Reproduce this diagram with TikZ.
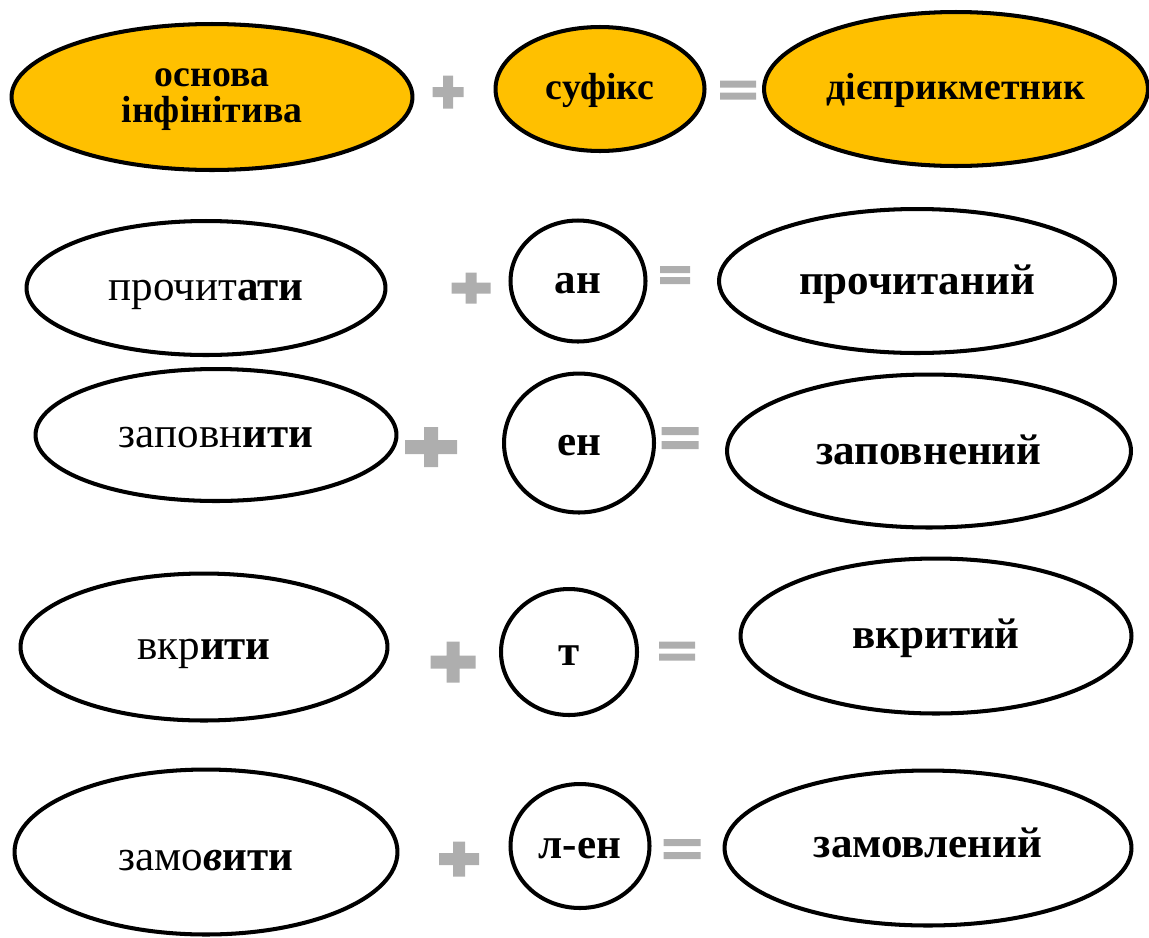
\documentclass[tikz,border=0pt]{standalone}
\usepackage{fontspec}
\setmainfont{Liberation Serif}
\usepackage{xcolor}
\usetikzlibrary{shapes.geometric}
\definecolor{suffixgold}{RGB}{255, 192, 0}
\definecolor{signgray}{RGB}{174, 174, 174}

\begin{document}
\begin{tikzpicture}[x=0.02cm, y=-0.02cm,
  wordoval/.style={ellipse, draw=black, line width=2.3pt, inner sep=0pt,
    font=\fontsize{24.5}{28}\selectfont},
  headoval/.style={wordoval, fill=suffixgold,
    font=\bfseries\fontsize{21.5}{21}\selectfont},
  xmid/.style={text height=#1, text depth=0pt},
  sign/.style={fill=signgray}
]
  \useasboundingbox (0,0) rectangle (1149,937);

  \node[headoval, align=center, xmid=29.5pt, minimum width=8.02cm,
    minimum height=2.92cm] (stem) at (212,97) {основа\\інфінітива};
  \node[headoval, xmid=12.5pt, minimum width=4.18cm, minimum height=2.48cm]
    (suffix) at (600,89) {суфікс};
  \node[headoval, xmid=12.5pt, minimum width=7.68cm, minimum height=3.08cm]
    (participle) at (956,89) {дієприкметник};

  \node[wordoval, xmid=14.5pt, minimum width=7.18cm, minimum height=2.68cm]
    (read) at (206,288) {прочит\textbf{ати}};
  \node[wordoval, xmid=14.5pt, minimum width=2.70cm, minimum height=2.42cm,
    font=\bfseries\fontsize{24.5}{28}\selectfont] (readsuf) at (578,281) {ан};
  \node[wordoval, xmid=15.5pt, minimum width=7.92cm, minimum height=2.88cm,
    font=\bfseries\fontsize{24.5}{28}\selectfont] (readres) at (917,281) {прочитаний};

  \node[wordoval, xmid=14.5pt, minimum width=7.22cm, minimum height=2.64cm]
    (fill) at (216,435) {заповн\textbf{ити}};
  \node[wordoval, xmid=14.5pt, minimum width=3.00cm, minimum height=2.78cm,
    font=\bfseries\fontsize{24.5}{28}\selectfont] (fillsuf) at (579,443) {ен};
  \node[wordoval, xmid=15pt, minimum width=8.08cm, minimum height=3.06cm,
    font=\bfseries\fontsize{24.5}{28}\selectfont] (fillres) at (929,451) {заповнений};

  \node[wordoval, xmid=14.5pt, minimum width=7.34cm, minimum height=2.94cm]
    (cover) at (204,647) {вкр\textbf{ити}};
  \node[wordoval, xmid=15.5pt, minimum width=2.72cm, minimum height=2.52cm,
    font=\bfseries\fontsize{24.5}{28}\selectfont] (coversuf) at (569,652) {т};
  \node[wordoval, xmid=14.5pt, minimum width=7.82cm, minimum height=3.10cm,
    font=\bfseries\fontsize{24.5}{28}\selectfont] (coverres) at (936,636) {вкритий};

  \node[wordoval, xmid=20.5pt, minimum width=7.66cm, minimum height=3.30cm]
    (order) at (206,852) {замо\textbf{\textit{в}ити}};
  \node[wordoval, xmid=14.5pt, minimum width=2.78cm, minimum height=2.48cm,
    font=\bfseries\fontsize{24.5}{28}\selectfont] (ordersuf) at (580,846) {л-ен};
  \node[wordoval, xmid=10.5pt, minimum width=8.14cm, minimum height=3.10cm,
    font=\bfseries\fontsize{24.5}{28}\selectfont] (orderres) at (928,848) {замовлений};

  \foreach \sx/\sy/\sw/\sh/\st [count=\i] in
    {448/92/31/33/10, 471/288/39/31/11, 431/447/52/40/14,
     453/662/45/41/13, 459/859/40/35/12}{
    \coordinate (plus\i) at (\sx,\sy);
    \fill[sign, shift={(plus\i)}] (-\sw/2,-\st/2) rectangle (\sw/2,\st/2)
      (-\st/2,-\sh/2) rectangle (\st/2,\sh/2);
  }

  \foreach \sx/\sy/\sw/\sb/\sg [count=\i] in
    {738/90/36/7/5, 675/275/30/7/4, 680/438/37/8/6,
     677/651/36/7/5, 682/849/37/7/6}{
    \coordinate (equals\i) at (\sx,\sy);
    \fill[sign, shift={(equals\i)}] (-\sw/2,-\sg/2-\sb) rectangle (\sw/2,-\sg/2)
      (-\sw/2,\sg/2) rectangle (\sw/2,\sg/2+\sb);
  }
\end{tikzpicture}
\end{document}
